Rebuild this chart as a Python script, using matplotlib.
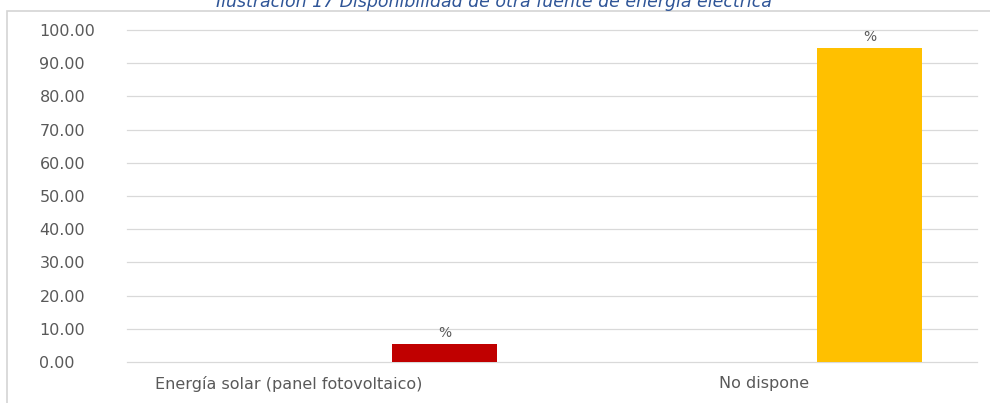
import numpy as np
import matplotlib
matplotlib.use("Agg")
import matplotlib.pyplot as plt
from matplotlib.patches import Rectangle

# data
categories = ["Energía solar (panel fotovoltaico)", "No dispone"]
values = [5.4, 94.6]
bar_labels = ["%", "%"]
bar_colors = ["#C00000", "#FFC000"]
y_ticks = [0, 10, 20, 30, 40, 50, 60, 70, 80, 90, 100]
title = "Ilustración 17 Disponibilidad de otra fuente de energía eléctrica"

W, H = 990, 403
fig = plt.figure(figsize=(W / 100, H / 100), dpi=100)
fig.patch.set_facecolor("white")

# outer frame of the chart object (only top and left edges are visible)
fig.patches.append(Rectangle((7 / W, -0.2), 1.5, (H - 11) / H + 0.2,
                             transform=fig.transFigure, fill=False,
                             edgecolor="#d4d4d4", linewidth=1.2))

# caption, clipped by the top of the picture like in the source
fig.text(494 / W, 1 - 7 / H, title, ha="center", va="baseline",
         style="italic", color="#2F5597", fontsize=12.5)

ax = fig.add_axes([127 / W, 1 - 362 / H, 850 / W, 332 / H])
x = np.arange(len(categories))
bw = 0.247
bars = ax.bar(x + bw, values, width=bw, color=bar_colors, zorder=3)
for b, lab in zip(bars, bar_labels):
    ax.annotate(lab, (b.get_x() + b.get_width() / 2, b.get_height()),
                xytext=(0, 3), textcoords="offset points", ha="center",
                va="bottom", fontsize=10, color="#595959")

ax.set_xlim(-0.5, len(categories) - 0.5)
ax.set_ylim(0, 100)
ax.set_yticks(y_ticks)
ax.set_yticklabels(["%.2f" % v for v in y_ticks])
for lab in ax.get_yticklabels():
    lab.set_horizontalalignment("left")
ax.tick_params(axis="y", length=0, pad=63, labelsize=11.5, labelcolor="#595959")

label_shift = [-0.12, 0.0]
ax.set_xticks(x + np.array(label_shift))
ax.set_xticklabels(categories)
ax.tick_params(axis="x", length=0, pad=10, labelsize=11.5, labelcolor="#595959")

ax.grid(axis="y", color="#d9d9d9", linewidth=0.9, zorder=0)
for gl in ax.get_ygridlines():
    gl.set_clip_on(False)
for s in ax.spines.values():
    s.set_visible(False)

fig.savefig("out.png", dpi=100)
